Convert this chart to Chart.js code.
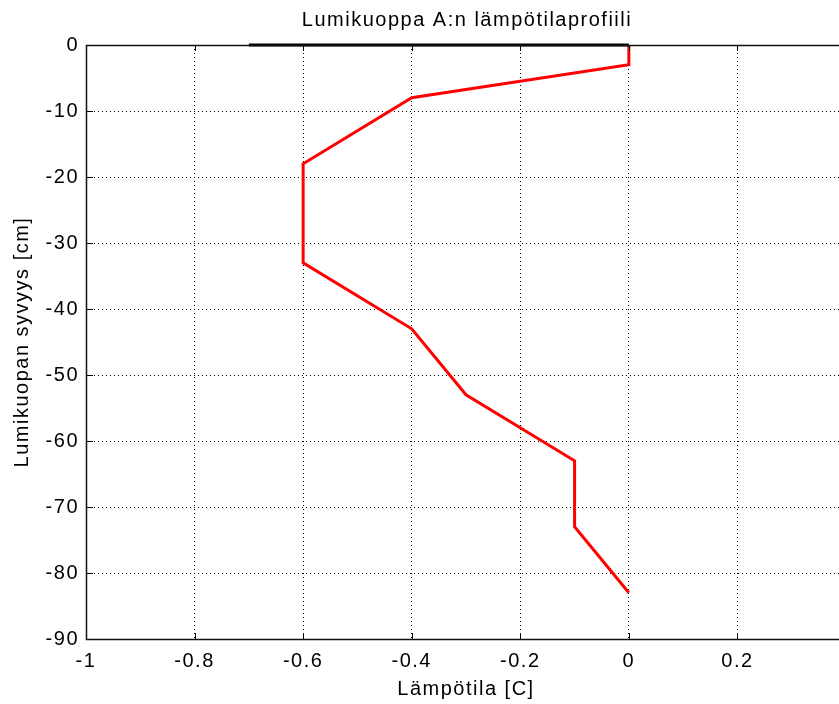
<!DOCTYPE html>
<html>
<head>
<meta charset="utf-8">
<script src="https://cdn.jsdelivr.net/npm/chart.js"></script>
<style>
  html, body { margin: 0; padding: 0; background: #fff; overflow: hidden; }
  #wrap { width: 860px; height: 704px; position: relative; }
</style>
</head>
<body>
<div id="wrap"><canvas id="profile" width="860" height="704"></canvas></div>
<script>
// measured snow temperature profile (depth in cm, temp in C)
const depths = [0, -3, -8, -18, -33, -43, -53, -63, -73, -83];
const temps  = [0, 0, -0.4, -0.6, -0.6, -0.4, -0.3, -0.1, -0.1, 0];
// snow surface line
const surfaceX = [-0.7, 0];
const surfaceY = [0, 0];

const xTicks = [-1, -0.8, -0.6, -0.4, -0.2, 0, 0.2, 0.4];
const yTicks = [0, -10, -20, -30, -40, -50, -60, -70, -80, -90];

const FONT = "'Liberation Sans', Arial, sans-serif";
const FSIZE = 20;
const SPACING = "1.5px";

// wide matlab-style lettering
const spacing = {
  id: "spacing",
  beforeUpdate(chart) { chart.ctx.letterSpacing = SPACING; },
  beforeDraw(chart) { chart.ctx.letterSpacing = SPACING; }
};

// matlab-ish box + inward ticks + title
const matlabBox = {
  id: "matlabBox",
  afterDraw(chart) {
    const { ctx, chartArea: a, scales } = chart;
    ctx.save();
    ctx.strokeStyle = "#000";
    ctx.lineWidth = 1;
    ctx.beginPath();
    xTicks.forEach(v => {
      const px = Math.round(scales.x.getPixelForValue(v)) + 0.5;
      ctx.moveTo(px, a.bottom); ctx.lineTo(px, a.bottom - 6);
      ctx.moveTo(px, a.top); ctx.lineTo(px, a.top + 6);
    });
    yTicks.forEach(v => {
      const py = Math.round(scales.y.getPixelForValue(v)) + 0.5;
      ctx.moveTo(a.left, py); ctx.lineTo(a.left + 7, py);
    });
    ctx.stroke();
    ctx.lineWidth = 1.5;
    ctx.strokeStyle = "#111";
    ctx.strokeRect(a.left + 0.5, a.top + 0.5, a.right - a.left, a.bottom - a.top);
    ctx.fillStyle = "#000";
    ctx.letterSpacing = SPACING;
    ctx.font = FSIZE + "px " + FONT;
    ctx.textAlign = "center";
    ctx.textBaseline = "middle";
    ctx.fillText("Lumikuoppa A:n lämpötilaprofiili", (a.left + a.right) / 2 + 1, 20);
    ctx.restore();
  }
};

new Chart(document.getElementById("profile"), {
  type: "scatter",
  data: {
    datasets: [
      {
        label: "Pinta",
        data: surfaceX.map((x, i) => ({ x, y: surfaceY[i] })),
        showLine: true,
        borderColor: "#000",
        borderWidth: 3,
        pointRadius: 0,
        clip: false
      },
      {
        label: "Lämpötila",
        data: temps.map((t, i) => ({ x: t, y: depths[i] })),
        showLine: true,
        borderColor: "#ff0000",
        borderWidth: 3,
        pointRadius: 0,
        tension: 0
      }
    ]
  },
  options: {
    responsive: false,
    animation: false,
    devicePixelRatio: 1,
    layout: { padding: { top: 45, right: 14, left: 0, bottom: 0 } },
    plugins: {
      legend: { display: false },
      tooltip: { enabled: false },
      title: { display: false }
    },
    scales: {
      x: {
        type: "linear",
        min: -1, max: 0.4,
        afterBuildTicks: s => { s.ticks = xTicks.map(v => ({ value: v })); },
        afterFit: s => { s.height = 65; },
        grid: { color: "#000", lineWidth: 1, drawTicks: false },
        border: { display: false, dash: [1, 3] },
        ticks: {
          color: "#000",
          font: { family: FONT, size: FSIZE },
          padding: 10,
          maxRotation: 0,
          autoSkip: false,
          callback: v => (v > 0.3 ? "" : String(Number(v.toFixed(1))))
        },
        title: {
          display: true,
          text: "Lämpötila [C]",
          color: "#000",
          font: { family: FONT, size: FSIZE },
          padding: { top: 0, bottom: 3 }
        }
      },
      y: {
        type: "linear",
        min: -90, max: 0,
        afterBuildTicks: s => { s.ticks = yTicks.map(v => ({ value: v })); },
        afterFit: s => { s.width = 86; },
        grid: { color: "#000", lineWidth: 1, drawTicks: false },
        border: { display: false, dash: [1, 3] },
        ticks: {
          color: "#000",
          font: { family: FONT, size: FSIZE },
          padding: 7,
          autoSkip: false,
          callback: v => String(v)
        },
        title: {
          display: true,
          text: "Lumikuopan syvyys [cm]",
          color: "#000",
          font: { family: FONT, size: FSIZE },
          padding: { top: 10, bottom: 0 }
        }
      }
    }
  },
  plugins: [spacing, matlabBox]
});
</script>
</body>
</html>
